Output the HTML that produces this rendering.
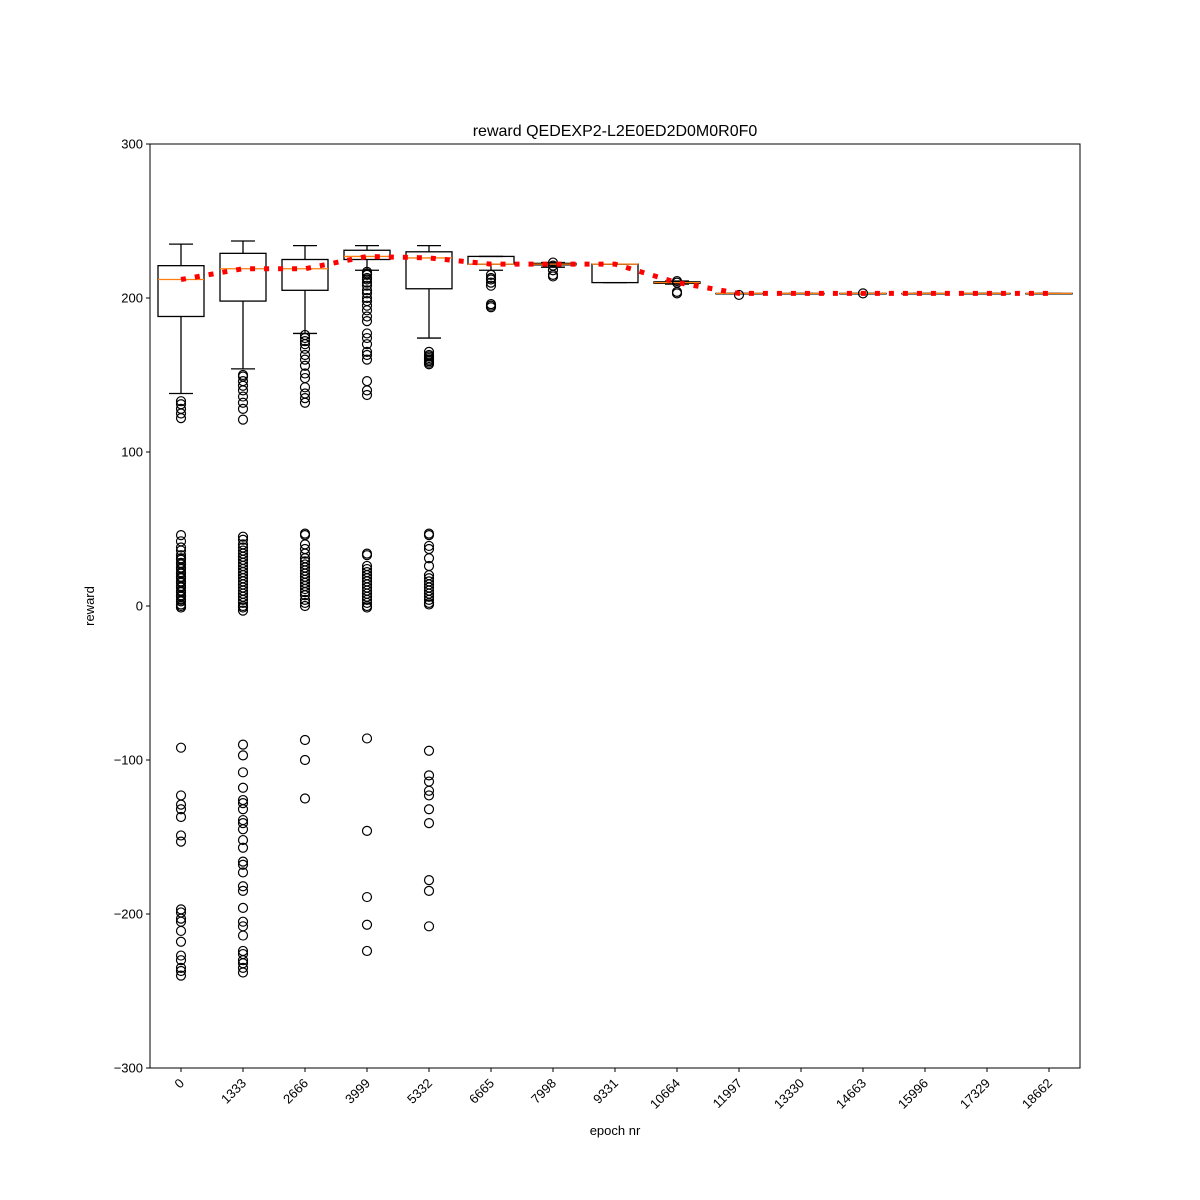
<!DOCTYPE html>
<html><head><meta charset="utf-8"><style>
html,body{margin:0;padding:0;background:#fff;}
svg{display:block;font-family:"Liberation Sans","DejaVu Sans",sans-serif;}
</style></head><body>
<svg id="chart" width="1200" height="1200">
<rect x="0" y="0" width="1200" height="1200" fill="#fff"/>
<text x="615" y="136" text-anchor="middle" font-size="16">reward QEDEXP2-L2E0ED2D0M0R0F0</text>
<text x="615" y="1135" text-anchor="middle" font-size="13">epoch nr</text>
<text x="94" y="606" text-anchor="middle" font-size="13" transform="rotate(-90 94 606)">reward</text>
<g id="plot"></g>
<rect x="150" y="144" width="930" height="924" fill="none" stroke="#000" stroke-width="1"/>
</svg>
<script>
const categories=["0","1333","2666","3999","5332","6665","7998","9331","10664","11997","13330","14663","15996","17329","18662"];
const whiskerLow=[138,154,177,218,174,218,220,210,209,203,203,203,203,203,203];
const q1=[188,198,205,225,206,222,221.5,210,209.5,203,203,203,203,203,203];
const medians=[212,219,219,227,226,222,222,222,210,203,203,203,203,203,203];
const q3=[221,229,225,231,230,227,222.5,222,210.5,203,203,203,203,203,203];
const whiskerHigh=[235,237,234,234,234,227,223,222,211,203,203,203,203,203,203];
const means=[212,219,219,227,226,222,222,222,210,203,203,203,203,203,203];
const outliers0=[122,125,128,131,133,46,42,38,36,33,31,30,28,27,25,24,22,21,19,18,16,15,13,12,10,9,7,6,4,3,1,0,-1,-92,-123,-129,-132,-137,-149,-153,-197,-199,-203,-205,-211,-218,-227,-230,-235,-237,-240];
const outliers1=[121,128,132,136,140,143,146,149,150,45,43,40,38,36,34,32,30,28,26,24,22,20,18,16,14,12,10,8,6,4,2,0,-1,-3,-90,-97,-108,-118,-126,-128,-132,-139,-141,-145,-152,-157,-166,-168,-173,-182,-185,-196,-205,-208,-214,-224,-226,-230,-232,-235,-238];
const outliers2=[132,135,138,142,148,151,156,160,163,167,170,172,174,176,47,46,40,37,34,31,29,27,25,23,21,19,17,15,13,11,9,7,4,2,0,-87,-100,-125];
const outliers3=[137,140,146,160,163,165,170,174,177,185,188,192,195,198,200,203,205,208,210,212,213,215,216,217,34,33,26,24,22,20,18,16,14,12,10,8,6,4,2,0,-1,-86,-146,-189,-207,-224];
const outliers4=[157,158,159,160,161,162,163,165,47,46,39,37,31,26,20,18,16,14,12,10,8,6,4,2,1,-94,-110,-114,-120,-123,-132,-141,-178,-185,-208];
const outliers5=[194,195,196,208,210,212,213,215];
const outliers6=[214,215,218,221,223];
const outliers7=[];
const outliers8=[203,204,210,211];
const outliers9=[202];
const outliers10=[];
const outliers11=[203];
const outliers12=[];
const outliers13=[];
const outliers14=[];
const allOutliers=[outliers0,outliers1,outliers2,outliers3,outliers4,outliers5,outliers6,outliers7,outliers8,outliers9,outliers10,outliers11,outliers12,outliers13,outliers14];
const yTicks=[-300,-200,-100,0,100,200,300];

const NS="http://www.w3.org/2000/svg";
const plot=document.getElementById('plot');
const X0=150,X1=1080,Y0=144,Y1=1068,YMIN=-300,YMAX=300;
function xs(i){return X0+(X1-X0)/categories.length*(i+0.5);}
function ys(v){return Y1-(v-YMIN)/(YMAX-YMIN)*(Y1-Y0);}
function mk(tag,attrs){const e=document.createElementNS(NS,tag);for(const k in attrs)e.setAttribute(k,attrs[k]);plot.appendChild(e);return e;}

yTicks.forEach(t=>{
  const y=ys(t);
  const l=mk('line',{x1:X0-4,x2:X0,y1:y,y2:y,stroke:'#000'});
  
  
  const tx=mk('text',{x:X0-7,y:y+4.5,'text-anchor':'end','font-size':13});
  tx.textContent=(t<0?'\u2212'+Math.abs(t):String(t));
  
  
});

const hw=23, capw=12;
categories.forEach((c,i)=>{
  const x=xs(i);
  const l=mk('line',{x1:x,x2:x,y1:Y1,y2:Y1+4,stroke:'#000'});
  
  
  const tx=mk('text',{x:x+4,y:Y1+16,'text-anchor':'end','font-size':13,transform:`rotate(-45 ${x+4} ${Y1+16})`});
  tx.textContent=c;
  
  

  const g=document.createElementNS(NS,'g');plot.appendChild(g);
  
  
  const add=(tag,a)=>{const e=document.createElementNS(NS,tag);for(const k in a)e.setAttribute(k,a[k]);g.appendChild(e);return e;};
  add('line',{x1:x,x2:x,y1:ys(q3[i]),y2:ys(whiskerHigh[i]),stroke:'#000','stroke-width':1.3});
  add('line',{x1:x,x2:x,y1:ys(q1[i]),y2:ys(whiskerLow[i]),stroke:'#000','stroke-width':1.3});
  add('line',{x1:x-capw,x2:x+capw,y1:ys(whiskerHigh[i]),y2:ys(whiskerHigh[i]),stroke:'#000','stroke-width':1.3});
  add('line',{x1:x-capw,x2:x+capw,y1:ys(whiskerLow[i]),y2:ys(whiskerLow[i]),stroke:'#000','stroke-width':1.3});
  add('rect',{x:x-hw,y:ys(q3[i]),width:2*hw,height:Math.max(0.5,ys(q1[i])-ys(q3[i])),fill:'none',stroke:'#000','stroke-width':1.3});
  add('line',{x1:x-hw,x2:x+hw,y1:ys(medians[i]),y2:ys(medians[i]),stroke:'#ff7f0e','stroke-width':1.3});
  allOutliers[i].forEach(v=>{
    const o=add('circle',{cx:x,cy:ys(v),r:4.5,fill:'none',stroke:'#000','stroke-width':1.2});
    
    
  });
});

let d='';
means.forEach((m,i)=>{d+=(i?'L':'M')+xs(i)+','+ys(m);});
const ml=mk('path',{d:d,fill:'none',stroke:'#ff0000','stroke-width':5,'stroke-dasharray':'5,9'});


</script>
</body></html>
